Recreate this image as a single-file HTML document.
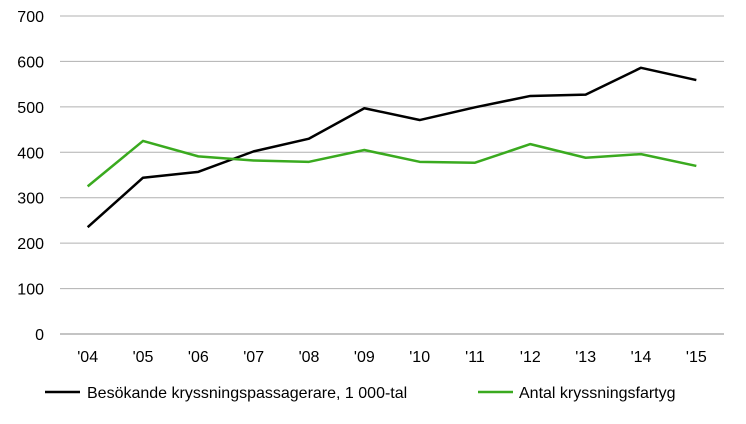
<!DOCTYPE html>
<html><head><meta charset="utf-8"><style>
body{margin:0;background:#fff;font-family:"Liberation Sans",sans-serif;}
svg text{font-family:"Liberation Sans",sans-serif;font-size:16px;fill:#000;}
</style></head><body>
<svg id="chart" width="746" height="419" viewBox="0 0 746 419"></svg>
<script>
const categories=["'04","'05","'06","'07","'08","'09","'10","'11","'12","'13","'14","'15"];
const passengers=[235,344,357,402,430,497,471,499,524,527,586,559];
const ships=[325,425,391,382,379,405,379,377,418,388,396,370];
const yTicks=[0,100,200,300,400,500,600,700];
const NS="http://www.w3.org/2000/svg";
const svg=document.getElementById('chart');
const x0=60,x1=724,yTop=16,yBot=334;
const step=(x1-x0)/categories.length;
const xs=i=>x0+step*(i+0.5);
const ys=v=>yBot-(v/700)*(yBot-yTop);
function mk(t,a){const e=document.createElementNS(NS,t);for(const k in a)e.setAttribute(k,a[k]);svg.appendChild(e);return e;}
yTicks.forEach(v=>{
 const l=mk('line',{x1:x0,x2:x1,y1:ys(v),y2:ys(v),stroke:v===0?'#888':'#b0b0b0','stroke-width':1});
 
 
 const t=mk('text',{x:x0-16,y:ys(v)+6,'text-anchor':'end'});t.textContent=v;
 
 
});
categories.forEach((c,i)=>{
 const t=mk('text',{x:xs(i),y:362,'text-anchor':'middle'});t.textContent=c;
 
 
});
function series(d,col,name){
 const p=mk('polyline',{points:d.map((v,i)=>xs(i)+','+ys(v)).join(' '),fill:'none',stroke:col,'stroke-width':2.5,'stroke-linejoin':'round'});
 
 
}
series(passengers,'#000','passengers-line');
series(ships,'#3aaa1f','ships-line');
let l=mk('line',{x1:45,x2:80,y1:392,y2:392,stroke:'#000','stroke-width':2.5});


let t=mk('text',{x:87,y:398});t.textContent='Besökande kryssningspassagerare, 1 000-tal';


l=mk('line',{x1:478,x2:513,y1:392,y2:392,stroke:'#3aaa1f','stroke-width':2.5});


t=mk('text',{x:519,y:398});t.textContent='Antal kryssningsfartyg';


</script>
</body></html>
